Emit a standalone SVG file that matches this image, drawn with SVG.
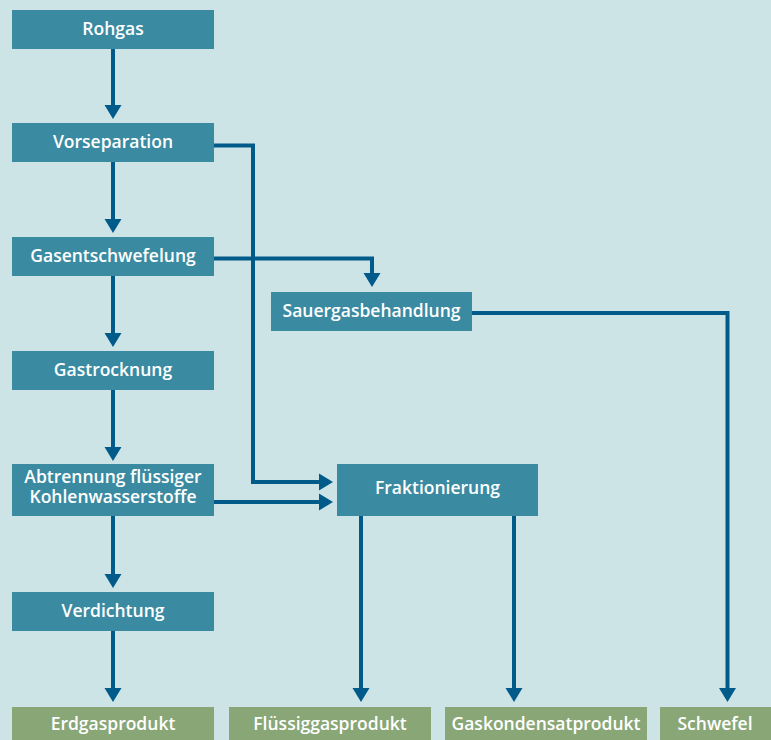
<svg xmlns="http://www.w3.org/2000/svg" width="771" height="740" viewBox="0 0 771 740">
<style>
.bg{fill:#cde4e7}
.box{fill:#3a8ba1}
.prod{fill:#89a676}
.t{font-family:"Open Sans","Noto Sans",sans-serif;font-weight:600;font-size:17.5px;fill:#ffffff;text-anchor:middle}
.c{fill:none;stroke:#005b8a;stroke-width:4;stroke-linejoin:miter}
</style>
<defs>
<marker id="ah" markerUnits="userSpaceOnUse" markerWidth="16" markerHeight="18" refX="1" refY="8.5" orient="auto" overflow="visible">
<path d="M0,0 L14,8.5 L0,17 Z" fill="#005b8a"/>
</marker>
</defs>
<rect class="bg" x="0" y="0" width="771" height="740"/>
<g id="connectors">
<path class="c" d="M113,49 V106" marker-end="url(#ah)"/>
<path class="c" d="M113,162 V220" marker-end="url(#ah)"/>
<path class="c" d="M113,276 V334" marker-end="url(#ah)"/>
<path class="c" d="M113,390 V448" marker-end="url(#ah)"/>
<path class="c" d="M113,516 V575" marker-end="url(#ah)"/>
<path class="c" d="M113,631 V689" marker-end="url(#ah)"/>
<path class="c" d="M214,145.5 H253 V482 H320" marker-end="url(#ah)"/>
<path class="c" d="M214,258.5 H372 V274" marker-end="url(#ah)"/>
<path class="c" d="M214,502 H320" marker-end="url(#ah)"/>
<path class="c" d="M472,313 H727.5 V689" marker-end="url(#ah)"/>
<path class="c" d="M361,516 V689" marker-end="url(#ah)"/>
<path class="c" d="M514,516 V689" marker-end="url(#ah)"/>
</g>
<g id="n-rohgas"><rect class="box" x="12" y="10" width="202" height="39"/><text class="t" x="113" y="34.5">Rohgas</text></g>
<g id="n-vorseparation"><rect class="box" x="12" y="123" width="202" height="39"/><text class="t" x="113" y="147.5">Vorseparation</text></g>
<g id="n-gasentschwefelung"><rect class="box" x="12" y="237" width="202" height="39"/><text class="t" x="113" y="261.5">Gasentschwefelung</text></g>
<g id="n-sauergas"><rect class="box" x="271" y="292" width="201" height="39"/><text class="t" x="371.5" y="316.5">Sauergasbehandlung</text></g>
<g id="n-gastrocknung"><rect class="box" x="12" y="351" width="202" height="39"/><text class="t" x="113" y="375.5">Gastrocknung</text></g>
<g id="n-abtrennung"><rect class="box" x="12" y="464" width="202" height="52"/><text class="t" x="113" y="482.5">Abtrennung flüssiger</text><text class="t" x="113" y="502.5">Kohlenwasserstoffe</text></g>
<g id="n-fraktionierung"><rect class="box" x="337" y="464" width="201" height="52"/><text class="t" x="437.5" y="494">Fraktionierung</text></g>
<g id="n-verdichtung"><rect class="box" x="12" y="592" width="202" height="39"/><text class="t" x="113" y="616.5">Verdichtung</text></g>
<g id="n-erdgas"><rect class="prod" x="12" y="707" width="202" height="40"/><text class="t" x="113" y="730">Erdgasprodukt</text></g>
<g id="n-fluessiggas"><rect class="prod" x="229" y="707" width="202" height="40"/><text class="t" x="330" y="730">Flüssiggasprodukt</text></g>
<g id="n-gaskondensat"><rect class="prod" x="445" y="707" width="202" height="40"/><text class="t" x="546" y="730">Gaskondensatprodukt</text></g>
<g id="n-schwefel"><rect class="prod" x="660" y="707" width="115" height="40"/><text class="t" x="715" y="730">Schwefel</text></g>
</svg>
